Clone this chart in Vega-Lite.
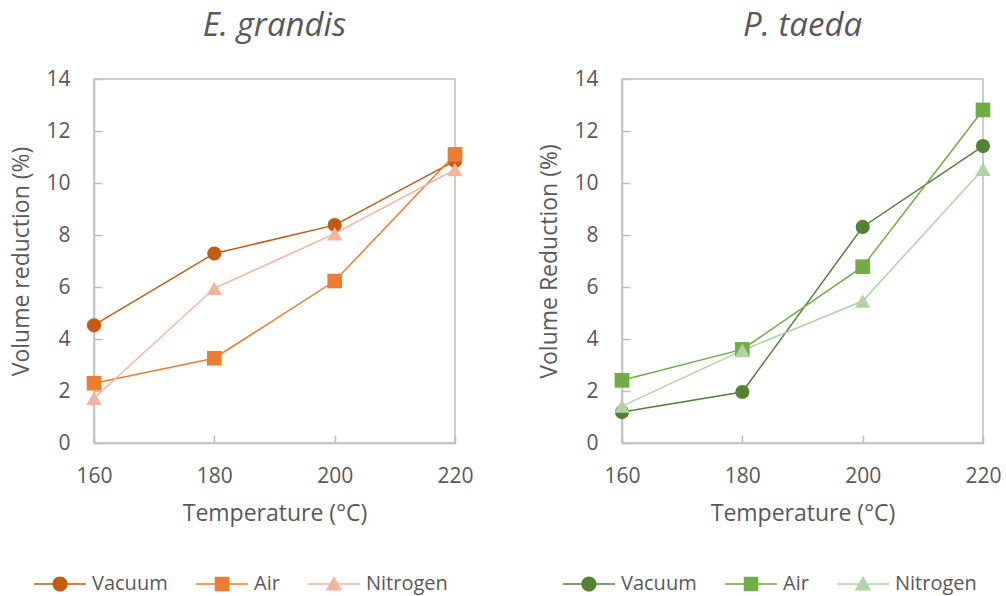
{
  "$schema": "https://vega.github.io/schema/vega-lite/v6.json",
  "background": "white",
  "padding": {"left": 10, "top": 9, "right": 5, "bottom": 5},
  "config": {
    "font": "Open Sans",
    "view": {"stroke": "#BFBFBF", "strokeWidth": 1.5},
    "axis": {
      "grid": false,
      "domainColor": "#BFBFBF",
      "domainWidth": 1.5,
      "tickColor": "#BFBFBF",
      "tickWidth": 1.5,
      "tickSize": -8,
      "labelFlush": false,
      "labelFontSize": 21,
      "labelColor": "#595959",
      "titleFontSize": 23,
      "titleColor": "#595959",
      "titleFontWeight": "normal"
    },
    "axisX": {"labelPadding": 30, "titlePadding": 16},
    "axisY": {"labelPadding": 32, "titlePadding": 12},
    "legend": {
      "title": null,
      "orient": "none",
      "direction": "horizontal",
      "symbolSize": 2704,
      "symbolStrokeWidth": 0,
      "labelFontSize": 20,
      "labelColor": "#595959",
      "columnPadding": 28,
      "labelOffset": 6
    },
    "title": {"fontSize": 33, "color": "#595959", "fontWeight": "normal", "fontStyle": "italic", "offset": 25}
  },
  "datasets": {
    "volume": [
      {"species": "E. grandis", "atmosphere": "Vacuum", "temperature": 160, "reduction": 4.53},
      {"species": "E. grandis", "atmosphere": "Vacuum", "temperature": 180, "reduction": 7.29},
      {"species": "E. grandis", "atmosphere": "Vacuum", "temperature": 200, "reduction": 8.38},
      {"species": "E. grandis", "atmosphere": "Vacuum", "temperature": 220, "reduction": 10.85},
      {"species": "E. grandis", "atmosphere": "Air", "temperature": 160, "reduction": 2.3},
      {"species": "E. grandis", "atmosphere": "Air", "temperature": 180, "reduction": 3.26},
      {"species": "E. grandis", "atmosphere": "Air", "temperature": 200, "reduction": 6.23},
      {"species": "E. grandis", "atmosphere": "Air", "temperature": 220, "reduction": 11.1},
      {"species": "E. grandis", "atmosphere": "Nitrogen", "temperature": 160, "reduction": 1.72},
      {"species": "E. grandis", "atmosphere": "Nitrogen", "temperature": 180, "reduction": 5.95},
      {"species": "E. grandis", "atmosphere": "Nitrogen", "temperature": 200, "reduction": 8.05},
      {"species": "E. grandis", "atmosphere": "Nitrogen", "temperature": 220, "reduction": 10.52},
      {"species": "P. taeda", "atmosphere": "Vacuum", "temperature": 160, "reduction": 1.19},
      {"species": "P. taeda", "atmosphere": "Vacuum", "temperature": 180, "reduction": 1.96},
      {"species": "P. taeda", "atmosphere": "Vacuum", "temperature": 200, "reduction": 8.31},
      {"species": "P. taeda", "atmosphere": "Vacuum", "temperature": 220, "reduction": 11.42},
      {"species": "P. taeda", "atmosphere": "Air", "temperature": 160, "reduction": 2.41},
      {"species": "P. taeda", "atmosphere": "Air", "temperature": 180, "reduction": 3.6},
      {"species": "P. taeda", "atmosphere": "Air", "temperature": 200, "reduction": 6.78},
      {"species": "P. taeda", "atmosphere": "Air", "temperature": 220, "reduction": 12.81},
      {"species": "P. taeda", "atmosphere": "Nitrogen", "temperature": 160, "reduction": 1.42},
      {"species": "P. taeda", "atmosphere": "Nitrogen", "temperature": 180, "reduction": 3.56},
      {"species": "P. taeda", "atmosphere": "Nitrogen", "temperature": 200, "reduction": 5.46},
      {"species": "P. taeda", "atmosphere": "Nitrogen", "temperature": 220, "reduction": 10.53}
    ]
  },
  "spacing": 167,
  "bounds": "flush",
  "resolve": {"scale": {"color": "independent", "x": "independent", "y": "independent"}},
  "hconcat": [
    {
      "title": "E. grandis",
      "width": 361,
      "height": 364,
      "data": {"name": "volume"},
      "transform": [{"filter": "datum.species === 'E. grandis'"}],
      "encoding": {
        "x": {"field": "temperature", "type": "quantitative", "scale": {"domain": [160, 220], "nice": false, "zero": false}, "axis": {"values": [160, 180, 200, 220], "title": "Temperature (°C)"}},
        "y": {"field": "reduction", "type": "quantitative", "scale": {"domain": [0, 14], "nice": false}, "axis": {"values": [0, 2, 4, 6, 8, 10, 12, 14], "title": "Volume reduction (%)"}},
        "color": {
          "field": "atmosphere", "type": "nominal",
          "scale": {"domain": ["Vacuum", "Air", "Nitrogen"], "range": ["#C55A11", "#ED7D31", "#F4B5A0"]},
          "legend": {
            "legendX": -60, "legendY": 479,
            "encode": {"symbols": {"update": {"shape": {"signal": "datum.value === 'Vacuum' ? 'M-1,-0.03H1V0.03H-1Z M0.29,0A0.29,0.29 0 1,1 -0.29,0A0.29,0.29 0 1,1 0.29,0Z' : datum.value === 'Air' ? 'M-1,-0.03H1V0.03H-1Z M-0.28,-0.28H0.28V0.28H-0.28Z' : 'M-1,-0.03H1V0.03H-1Z M0,-0.31L0.32,0.25H-0.32Z'"}}}}
          }
        }
      },
      "layer": [
        {"mark": {"type": "line", "strokeWidth": 1.5}},
        {"transform": [{"filter": "datum.atmosphere === 'Vacuum'"}], "mark": {"type": "point", "shape": "circle", "filled": true, "opacity": 1, "size": 200}},
        {"transform": [{"filter": "datum.atmosphere === 'Air'"}], "mark": {"type": "point", "shape": "square", "filled": true, "opacity": 1, "size": 215}},
        {"transform": [{"filter": "datum.atmosphere === 'Nitrogen'"}], "mark": {"type": "point", "shape": "triangle-up", "filled": true, "opacity": 1, "size": 240}}
      ]
    },
    {
      "title": "P. taeda",
      "width": 361,
      "height": 364,
      "data": {"name": "volume"},
      "transform": [{"filter": "datum.species === 'P. taeda'"}],
      "encoding": {
        "x": {"field": "temperature", "type": "quantitative", "scale": {"domain": [160, 220], "nice": false, "zero": false}, "axis": {"values": [160, 180, 200, 220], "title": "Temperature (°C)"}},
        "y": {"field": "reduction", "type": "quantitative", "scale": {"domain": [0, 14], "nice": false}, "axis": {"values": [0, 2, 4, 6, 8, 10, 12, 14], "title": "Volume Reduction (%)"}},
        "color": {
          "field": "atmosphere", "type": "nominal",
          "scale": {"domain": ["Vacuum", "Air", "Nitrogen"], "range": ["#548235", "#70AD47", "#B2D3A4"]},
          "legend": {
            "legendX": -59, "legendY": 479,
            "encode": {"symbols": {"update": {"shape": {"signal": "datum.value === 'Vacuum' ? 'M-1,-0.03H1V0.03H-1Z M0.29,0A0.29,0.29 0 1,1 -0.29,0A0.29,0.29 0 1,1 0.29,0Z' : datum.value === 'Air' ? 'M-1,-0.03H1V0.03H-1Z M-0.28,-0.28H0.28V0.28H-0.28Z' : 'M-1,-0.03H1V0.03H-1Z M0,-0.31L0.32,0.25H-0.32Z'"}}}}
          }
        }
      },
      "layer": [
        {"mark": {"type": "line", "strokeWidth": 1.5}},
        {"transform": [{"filter": "datum.atmosphere === 'Vacuum'"}], "mark": {"type": "point", "shape": "circle", "filled": true, "opacity": 1, "size": 200}},
        {"transform": [{"filter": "datum.atmosphere === 'Air'"}], "mark": {"type": "point", "shape": "square", "filled": true, "opacity": 1, "size": 215}},
        {"transform": [{"filter": "datum.atmosphere === 'Nitrogen'"}], "mark": {"type": "point", "shape": "triangle-up", "filled": true, "opacity": 1, "size": 240}}
      ]
    }
  ]
}
